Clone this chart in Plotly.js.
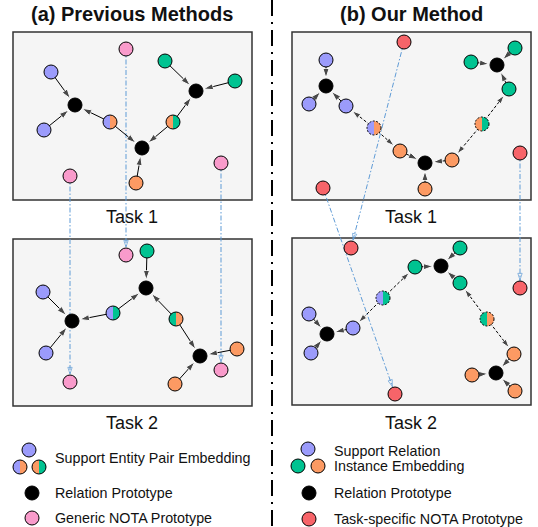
<!DOCTYPE html>
<html><head><meta charset="utf-8">
<script src="https://cdn.plot.ly/plotly-3.0.1.min.js"></script>
<style>html,body{margin:0;padding:0;background:#fff}#chart{width:538px;height:527px}</style>
</head><body><div id="chart"></div>
<script>
// ---- nodes (embedding-space positions) ----
const nodeNames = [
 'A1b1','A1b2','A1g1','A1g2','A1o1','A1k1','A1k2','A1k3','A1p1','A1p2','A1p3',
 'A2g1','A2k1','A2b1','A2k2','A2b2','A2k3','A2o1','A2o2','A2p1','A2p2','A2p3',
 'B1r1','B1g1','B1b1','B1g2','B1k1','B1k2','B1g3','B1b2','B1b3','B1o1','B1k3','B1o2','B1r2','B1r3','B1o3',
 'B2r1','B2g1','B2g2','B2k1','B2g3','B2r2','B2b1','B2k2','B2b2','B2b3','B2o1','B2k3','B2o2','B2o3','B2r3'];
const nodeX = [
 51,44,165,235,136,75,196,142,126,70,221,
 147,146,43,72,46,200,237,175,126,70,221,
 404,515,326,471,497,326,509,309,346,400,425,452,520,323,425,
 351,460,415,441,460,520,309,327,353,311,514,496,472,515,395];
const nodeY = [
 72,130,61,81,183,105,91,148,49,176,163,
 251,288,292,321,353,356,349,384,255,382,370,
 42,48,60,62,65,86,89,104,106,151,163,160,153,188,189,
 248,248,267,266,283,288,314,334,328,353,354,373,375,391,394];
const nodeKind = [
 'blue','blue','green','green','orange','black','black','black','pink','pink','pink',
 'green','black','blue','black','blue','black','orange','orange','pink','pink','pink',
 'red','green','blue','green','black','black','green','blue','blue','orange','black','orange','red','red','orange',
 'red','green','green','black','green','red','blue','black','blue','blue','orange','black','orange','orange','red'];

// half-and-half (entity pair / mixed) nodes
const halfNames = ['A1h1','A1h2','A2h1','A2h2','B1h1','B1h2','B2h1','B2h2'];
const halfX     = [110,173,113,176,374,482,383,487];
const halfY     = [122,122,313,319,128,124,298,319];
const halfLeft  = ['blue','orange','blue','green','blue','orange','blue','green'];
const halfRight = ['orange','green','green','orange','orange','green','green','orange'];

// edges
const solidFrom = ['A1b1','A1b2','A1h1','A1h1','A1o1','A1h2','A1h2','A1g1','A1g2',
                   'A2g1','A2b1','A2b2','A2h1','A2h1','A2h2','A2h2','A2o1','A2o2',
                   'B1b1','B1b2','B1b3','B1g1','B1g2','B1g3','B1o1','B1o2','B1o3',
                   'B2g1','B2g2','B2g3','B2b1','B2b2','B2b3','B2o1','B2o2','B2o3'];
const solidTo   = ['A1k1','A1k1','A1k1','A1k3','A1k3','A1k3','A1k2','A1k2','A1k2',
                   'A2k1','A2k2','A2k2','A2k2','A2k1','A2k1','A2k3','A2k3','A2k3',
                   'B1k2','B1k2','B1k2','B1k1','B1k1','B1k1','B1k3','B1k3','B1k3',
                   'B2k1','B2k1','B2k1','B2k2','B2k2','B2k2','B2k3','B2k3','B2k3'];
const dashFrom  = ['B1h1','B1h1','B1h2','B1h2','B2h1','B2h1','B2h2','B2h2'];
const dashTo    = ['B1b3','B1o1','B1g3','B1o2','B2g2','B2b2','B2g3','B2o1'];
const linkFrom  = ['A1p1','A1p2','A1p3','B1r1','B1r3','B1r2'];
const linkTo    = ['A2p1','A2p2','A2p3','B2r1','B2r3','B2r2'];

// boxes (task panels)
const boxX0 = [13,13,292,292], boxY0 = [32,239,32,238], boxX1 = [252,252,531,531], boxY1 = [200,406,200,405];

// text labels
const labelText = ['<b>(a) Previous Methods</b>','<b>(b) Our Method</b>','Task 1','Task 1','Task 2','Task 2'];
const labelX = [132,411,132,411,132,411];
const labelY = [14,14,217,217,423,423];
const labelSize = [20,20,18,18,18,18];

// legends
const legMarkX = [29,32,32, 308,298,318,309,309];
const legMarkY = [450,493,518, 449,466,466,493,519];
const legMarkKind = ['blue','black','pink','blue','green','orange','black','red'];
const legHalfX = [20,39], legHalfY = [467,467], legHalfL = ['blue','orange'], legHalfR = ['orange','green'];
const legText = ['Support Entity Pair Embedding','Relation Prototype','Generic NOTA Prototype',
                 'Support Relation','Instance Embedding','Relation Prototype','Task-specific NOTA Prototype'];
const legTextX = [53,53,53,332,332,332,332];
const legTextY = [458,493,518,451,466,493,519];

// ---- styling ----
const COL = {blue:'#9b9bfb', green:'#00c391', orange:'#fc9a63', black:'#000000', pink:'#f99bcb', red:'#f76469'};
const FONT = '"Liberation Sans", Arial, sans-serif';
const MS = 14;

function pos(n){
  let i = nodeNames.indexOf(n);
  if(i>=0) return [nodeX[i], nodeY[i]];
  i = halfNames.indexOf(n);
  return [halfX[i], halfY[i]];
}

const traces = [];
// divider
traces.push({x:[272,272], y:[0,527], mode:'lines', line:{color:'#000', width:2, dash:'16px,6px,2px,6px'}, hoverinfo:'skip'});

// cross-task links (dash-dot, open arrowhead)
linkFrom.forEach((f,i)=>{
  const a = pos(f), b = pos(linkTo[i]);
  traces.push({x:[a[0],b[0]], y:[a[1],b[1]], mode:'lines+markers',
    line:{color:'#5f9bd6', width:1, dash:'5px,2px,1.5px,2px'},
    marker:{symbol:'arrow-open', angleref:'previous', size:[0,7], standoff:[0,8], color:'#5f9bd6', line:{width:1, color:'#5f9bd6'}},
    hoverinfo:'skip'});
});
// solid arrows
solidFrom.forEach((f,i)=>{
  const a = pos(f), b = pos(solidTo[i]);
  traces.push({x:[a[0],b[0]], y:[a[1],b[1]], mode:'lines+markers',
    line:{color:'#000', width:1},
    marker:{symbol:'arrow', angleref:'previous', size:[0,10], standoff:[0,8], color:'#000'},
    hoverinfo:'skip'});
});
// dashed arrows
dashFrom.forEach((f,i)=>{
  const a = pos(f), b = pos(dashTo[i]);
  traces.push({x:[a[0],b[0]], y:[a[1],b[1]], mode:'lines+markers',
    line:{color:'#000', width:1, dash:'3px,2px'},
    marker:{symbol:'arrow', angleref:'previous', size:[0,9], standoff:[0,8], color:'#000'},
    hoverinfo:'skip'});
});
// nodes
['blue','green','orange','black','pink','red'].forEach(k=>{
  const xs=[], ys=[];
  nodeKind.forEach((kk,i)=>{ if(kk===k){xs.push(nodeX[i]); ys.push(nodeY[i]);} });
  legMarkKind.forEach((kk,i)=>{ if(kk===k){xs.push(legMarkX[i]); ys.push(legMarkY[i]);} });
  traces.push({x:xs, y:ys, mode:'markers', marker:{size:MS, color:COL[k], line:{color:'#000', width:1}}, hoverinfo:'skip'});
});

// boxes and half nodes as shapes
const shapes = [];
boxX0.forEach((x0,i)=>{
  shapes.push({type:'rect', xref:'x', yref:'y', x0:x0, y0:boxY0[i], x1:boxX1[i], y1:boxY1[i],
    fillcolor:'#f5f5f5', line:{color:'#333', width:1.5}, layer:'below'});
});
function halfPath(cx, cy, r, s){
  const k = 0.5523;
  return `M${cx},${cy-r} C${cx+s*k*r},${cy-r} ${cx+s*r},${cy-k*r} ${cx+s*r},${cy} C${cx+s*r},${cy+k*r} ${cx+s*k*r},${cy+r} ${cx},${cy+r} Z`;
}
function addHalf(cx, cy, l, r, dashed){
  const rr = MS/2;
  shapes.push({type:'path', xref:'x', yref:'y', path:halfPath(cx,cy,rr,-1), fillcolor:COL[l], line:{width:0}});
  shapes.push({type:'path', xref:'x', yref:'y', path:halfPath(cx,cy,rr,1), fillcolor:COL[r], line:{width:0}});
  shapes.push({type:'circle', xref:'x', yref:'y', x0:cx-rr, x1:cx+rr, y0:cy-rr, y1:cy+rr,
    line:{color:'#000', width:1, dash: dashed ? '2px,1.5px' : 'solid'}});
}
halfNames.forEach((n,i)=> addHalf(halfX[i], halfY[i], halfLeft[i], halfRight[i], n[0]==='B'));
legHalfX.forEach((x,i)=> addHalf(x, legHalfY[i], legHalfL[i], legHalfR[i], false));

const annotations = [];
labelText.forEach((t,i)=>{
  annotations.push({x:labelX[i], y:labelY[i], xref:'x', yref:'y', text:t, showarrow:false,
    xanchor:'center', yanchor:'middle', font:{family:FONT, size:labelSize[i], color:'#111'}});
});
legText.forEach((t,i)=>{
  annotations.push({x:legTextX[i], y:legTextY[i], xref:'x', yref:'y', text:t, showarrow:false,
    xanchor:'left', yanchor:'middle', font:{family:FONT, size:14.3, color:'#111'}});
});

const layout = {
  width:538, height:527, margin:{l:0,r:0,t:0,b:0},
  paper_bgcolor:'#fff', plot_bgcolor:'#fff', showlegend:false,
  xaxis:{range:[0,538], visible:false, fixedrange:true},
  yaxis:{range:[527,0], visible:false, fixedrange:true},
  shapes:shapes, annotations:annotations
};
Plotly.newPlot('chart', traces.map(t=>Object.assign({showlegend:false}, t)), layout, {staticPlot:true, displayModeBar:false});
</script></body></html>
